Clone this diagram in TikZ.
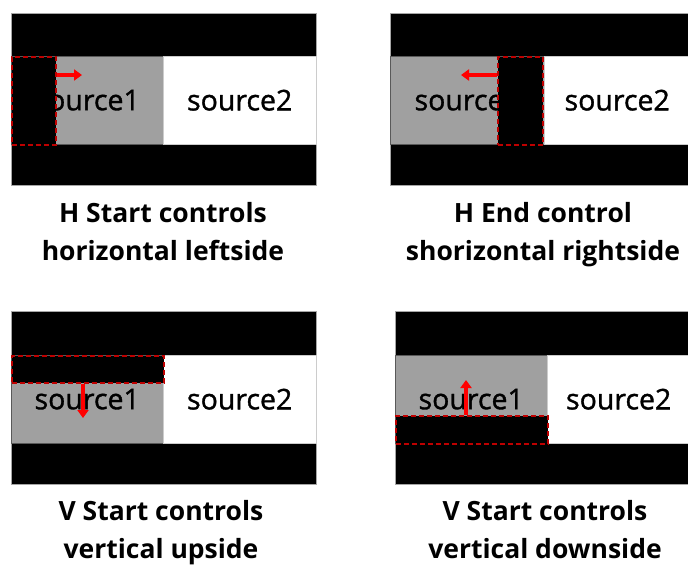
\documentclass[tikz,border=0pt]{standalone}
\usepackage{fontspec}
\setmainfont{Open Sans}
\newfontfamily\srcfont{Open Sans}[FakeBold=1.2]
\usetikzlibrary{positioning, arrows.meta}
\definecolor{srcgray}{RGB}{160,160,160}
\definecolor{cropred}{RGB}{190,0,0}
\tikzset{
	frame/.style = {rectangle, draw=gray!70, fill=black, anchor=north west, inner sep=0pt},
	source1/.style = {rectangle, draw=black!65, fill=srcgray, anchor=north west, inner sep=0pt, font=\srcfont\fontsize{28.5}{30}\selectfont},
	source2/.style = {rectangle, draw=gray!40, fill=white, anchor=north west, inner sep=0pt, font=\srcfont\fontsize{28.5}{30}\selectfont},
	cropbox/.style = {rectangle, draw=cropred, fill=black, line width=1.5pt, dash pattern=on 5pt off 3pt, anchor=north west, inner sep=0pt},
	push/.style = {-{Triangle[length=8pt, width=11pt]}, line width=3.5pt, red},
	caption/.style = {align=center, font=\bfseries\fontsize{26.5}{38}\selectfont}
}

\begin{document}
\begin{tikzpicture}[x=1pt, y=-1pt]
	\useasboundingbox (0,0) rectangle (688,565);
	
	% Panel 1: H Start
	\node (frame1) [frame, minimum width=305, minimum height=172] at (11,13) {};
	\node (src1a) [source1, minimum width=152, minimum height=88] at (11,56) {source1};
	\node (src2a) [source2, minimum width=153, minimum height=88] at (163,56) {source2};
	\node (crop1) [cropbox, minimum width=44, minimum height=88] at (11,56) {};
	\coordinate (tip1) at (82,75);
	\node (cap1) [caption] at (163,234) {H Start controls\strut\\horizontal leftside\strut};
	
	% Panel 2: H End
	\node (frame2) [frame, minimum width=300, minimum height=172] at (390,13) {};
	\node (src1b) [source1, minimum width=154, minimum height=88] at (390,56) {source1};
	\node (src2b) [source2, minimum width=146, minimum height=88] at (544,56) {source2};
	\node (crop2) [cropbox, minimum width=45, minimum height=88] at (497,56) {};
	\coordinate (tip2) at (461,75);
	\node (cap2) [caption] at (543,234) {H End control\strut\\shorizontal rightside\strut};
	
	% Panel 3: V Start, upside
	\node (frame3) [frame, minimum width=305, minimum height=173] at (11,311) {};
	\node (src1c) [source1, minimum width=152, minimum height=88] at (11,355) {source1};
	\node (src2c) [source2, minimum width=153, minimum height=88] at (163,355) {source2};
	\node (crop3) [cropbox, minimum width=152, minimum height=27] at (11,355) {};
	\coordinate (tip3) at (83,418);
	\node (cap3) [caption] at (161,532) {V Start controls\strut\\vertical upside\strut};
	
	% Panel 4: V Start, downside
	\node (frame4) [frame, minimum width=295, minimum height=173] at (395,311) {};
	\node (src1d) [source1, minimum width=152, minimum height=88] at (395,355) {source1};
	\node (src2d) [source2, minimum width=143, minimum height=88] at (547,355) {source2};
	\node (crop4) [cropbox, minimum width=152, minimum height=28] at (395,415) {};
	\coordinate (tip4) at (466,380);
	\node (cap4) [caption] at (545,532) {V Start controls\strut\\vertical downside\strut};
	
	% Arrows
	\draw [push] (crop1.east |- tip1) -- (tip1);
	\draw [push] (crop2.west |- tip2) -- (tip2);
	\draw [push] (crop3.south -| tip3) -- (tip3);
	\draw [push] (crop4.north -| tip4) -- (tip4);
	
\end{tikzpicture}
\end{document}
